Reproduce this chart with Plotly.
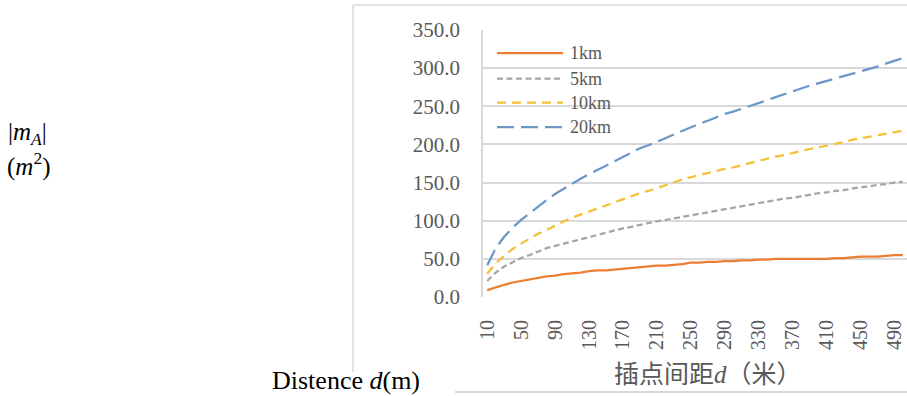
import plotly.graph_objects as go

# ---------------- data ----------------
distance = list(range(10, 501, 10))  # interpolation spacing d (m)

series_names = ["1km", "5km", "10km", "20km"]

m_1km = [9, 13, 16, 19, 21, 23, 26, 27, 28, 30,
         31, 32, 34, 35, 35, 36, 37, 38, 39, 40,
         41, 41, 42, 43, 45, 45, 46, 46, 47, 47,
         48, 48, 49, 49, 50, 50, 50, 50, 50, 50,
         50, 51, 51, 52, 53, 53, 53, 54, 55, 55]

m_5km = [21, 32, 40, 46, 51, 55, 60, 64, 67, 70,
         73, 76, 78, 81, 84, 87, 90, 92, 95, 97,
         99, 101, 103, 105, 107, 109, 111, 113, 115, 117,
         119, 121, 123, 125, 127, 129, 130, 132, 134, 136,
         137, 139, 140, 142, 144, 145, 147, 148, 150, 151]

m_10km = [30.6, 44, 54, 63, 70, 77, 83, 88, 94, 99,
          104, 108, 112, 116, 120, 124, 129, 132, 136, 139,
          143, 147, 150, 154, 157, 160, 163, 165, 168, 170,
          173, 175, 178, 181, 184, 186, 189, 191, 194, 196,
          198, 201, 203, 206, 208, 210, 212, 214, 216, 218]

m_20km = [41.5, 64, 79, 91, 101, 110, 119, 127, 135, 142,
          148, 155, 161, 166, 172, 178, 184, 189, 195, 199,
          203, 208, 213, 218, 222, 227, 231, 236, 240, 243,
          247, 250, 254, 258, 262, 266, 270, 273, 277, 280,
          283, 286, 290, 293, 296, 299, 302, 306, 309, 313]

x_tick_vals = list(range(10, 491, 40))
y_tick_vals = [0, 50, 100, 150, 200, 250, 300, 350]

x_title = '插点间距<span style="font-family:Liberation Serif"><i>d</i></span>（米）'
outer_x_label = 'Distence <i>d</i>(m)'

# ---------------- style ----------------
W, H = 907, 396
L, R, T, B = 483, 0, 30, 99
PW, PH = W - L - R, H - T - B

def px(x):
    return (x - L) / PW

def py(y):
    return 1 - (y - T) / PH

colors = ["#ED7D31", "#A5A5A5", "#F4C035", "#6B97C9"]
dashes = ["solid", "6px,3.5px", "9px,6px", "17px,7px"]
widths = [2.25, 2.25, 2.25, 2.25]
grid = "#D9D9D9"
tick_col = "#595959"
serif = "Liberation Serif"

fig = go.Figure()
for name, vals, c, d, w in zip(series_names, [m_1km, m_5km, m_10km, m_20km], colors, dashes, widths):
    fig.add_trace(go.Scatter(x=distance, y=vals, mode="lines", name=name,
                             line=dict(color=c, dash=d, width=w), showlegend=False))

shapes = []
annotations = []

# custom legend (long line samples like the original)
legend_rows = [53, 78.5, 102.5, 127]
for name, c, d, w, yy in zip(series_names, colors, dashes, widths, legend_rows):
    shapes.append(dict(type="line", xref="paper", yref="paper",
                       x0=px(497), x1=px(563), y0=py(yy), y1=py(yy),
                       line=dict(color=c, dash=d, width=w)))
    annotations.append(dict(xref="paper", yref="paper", x=px(568), y=py(yy),
                            text=name, showarrow=False, xanchor="left", yanchor="middle",
                            font=dict(family=serif, size=18, color=tick_col)))

# chart frame (light grey)
shapes.append(dict(type="line", xref="paper", yref="paper", x0=px(353), x1=px(353),
                   y0=py(5), y1=py(372), line=dict(color=grid, width=1.5)))
shapes.append(dict(type="line", xref="paper", yref="paper", x0=px(353), x1=px(910),
                   y0=py(5), y1=py(5), line=dict(color=grid, width=1.5)))
shapes.append(dict(type="line", xref="paper", yref="paper", x0=px(455), x1=px(910),
                   y0=py(392), y1=py(392), line=dict(color=grid, width=2)))

# x-axis title of the embedded chart
annotations.append(dict(xref="paper", yref="paper", x=px(708), y=py(372),
                        text=x_title, showarrow=False, xanchor="center", yanchor="middle",
                        font=dict(family="Noto Sans CJK SC", size=25, color=tick_col)))

# outer document labels
annotations.append(dict(xref="paper", yref="paper", x=px(270), y=py(380),
                        text=outer_x_label, showarrow=False, xanchor="left", yanchor="middle",
                        font=dict(family=serif, size=26, color="#000000")))
annotations.append(dict(xref="paper", yref="paper", x=px(6), y=py(133),
                        text='|<i>m</i><sub><i>A</i></sub>|', showarrow=False,
                        xanchor="left", yanchor="middle",
                        font=dict(family=serif, size=25, color="#000000")))
annotations.append(dict(xref="paper", yref="paper", x=px(5), y=py(164),
                        text='(<i>m</i><sup>2</sup>)', showarrow=False,
                        xanchor="left", yanchor="middle",
                        font=dict(family=serif, size=25, color="#000000")))

fig.update_layout(
    width=W, height=H,
    margin=dict(l=L, r=R, t=T, b=B, pad=0),
    paper_bgcolor="white", plot_bgcolor="white",
    shapes=shapes, annotations=annotations,
    showlegend=False,
)
fig.update_xaxes(range=[5, 505], tickvals=x_tick_vals, ticktext=[str(v) for v in x_tick_vals],
                 tickangle=-90, showgrid=False, zeroline=False, showline=False,
                 ticks="outside", ticklen=14, tickcolor="rgba(0,0,0,0)",
                 tickfont=dict(family=serif, size=20, color=tick_col))
fig.update_yaxes(range=[0, 350], tickvals=y_tick_vals, tickformat=".1f",
                 showgrid=True, gridcolor=grid, gridwidth=2, zeroline=False,
                 showline=True, linecolor=grid, linewidth=1.5, mirror=False,
                 ticks="outside", ticklen=17, tickcolor="rgba(0,0,0,0)",
                 tickfont=dict(family=serif, size=21, color=tick_col))

fig.write_html("out.html", config={"displayModeBar": False},
               post_script="document.body.style.margin='0px';document.body.style.overflow='hidden';")
